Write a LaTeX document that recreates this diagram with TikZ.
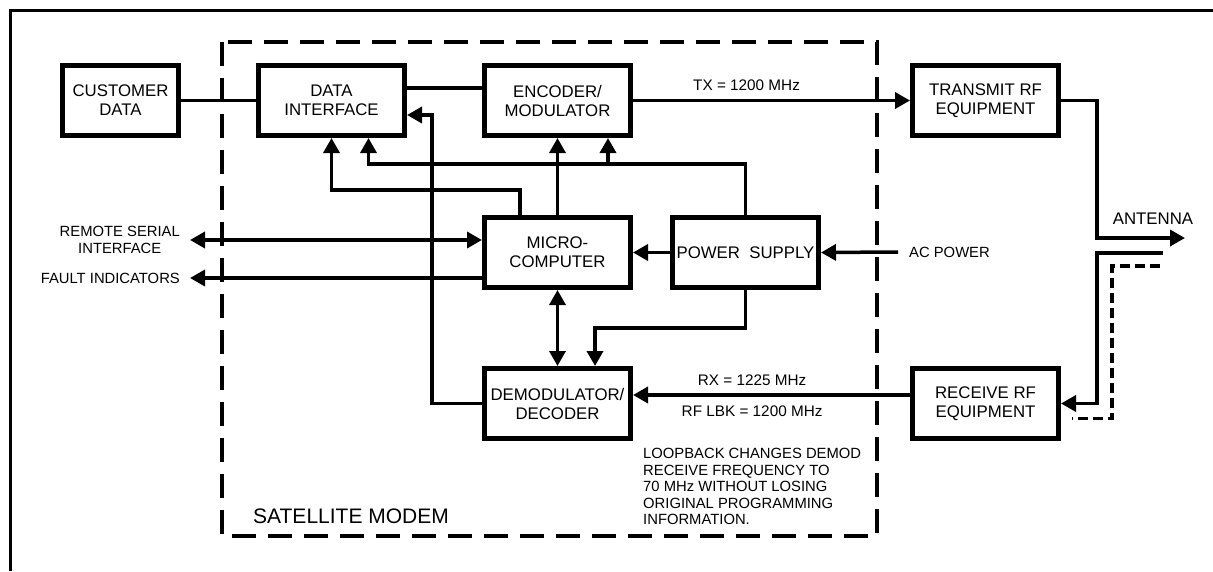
\documentclass[tikz,border=0pt]{standalone}
\usepackage{fontspec}
\setmainfont{Liberation Sans}
\usepackage{tikz}
\usetikzlibrary{arrows.meta, positioning, calc}
\newcommand{\boxfont}{\fontsize{16.8}{19}\selectfont}
\newcommand{\lblfont}{\fontsize{14.8}{16.5}\selectfont}
\newcommand{\freqfont}{\fontsize{15.3}{17}\selectfont}
\tikzset{
  block/.style={
    rectangle, draw, line width=5pt,
    minimum width=146pt, minimum height=70pt,
    align=center, inner sep=2pt,
    font=\boxfont
  },
  wire/.style={line width=3.5pt},
  arrow/.style={wire, -{Triangle[length=15pt, width=16pt]}},
  dblarrow/.style={wire, {Triangle[length=15pt, width=16pt]}-{Triangle[length=15pt, width=16pt]}},
  lbl/.style={font=\lblfont, inner sep=1pt},
  freq/.style={font=\freqfont, inner sep=1pt},
  modem/.style={line width=4.5pt, dash pattern=on 24pt off 12pt},
  lbkpath/.style={line width=3.5pt, dash pattern=on 10pt off 5pt},
}

\begin{document}
\begin{tikzpicture}[x=1pt, y=-1pt, node distance=75pt]
    \useasboundingbox (0,0) rectangle (1213,571);
    \draw[line width=3pt] (10,571) -- (10,10) -- (1213,10);
    \draw[modem] (222,42) rectangle (877,536);

    \node[block] (enc) at (557.5,100.5) {ENCODER/\\MODULATOR};
    \node[block, left=of enc] (dint) {DATA\\INTERFACE};
    \node[block, minimum width=116pt, left=of dint] (cust) {CUSTOMER\\DATA};
    \node[block, right=277pt of enc] (txrf) {TRANSMIT RF\\EQUIPMENT};
    \node[block, below=77pt of enc] (micro) {MICRO-\\COMPUTER};
    \node[block, right=37pt of micro] (psu) {POWER\ \ SUPPLY};
    \node[block, below=76pt of micro] (demod) {DEMODULATOR/\\DECODER};
    \node[block] (rxrf) at (txrf |- demod) {RECEIVE RF\\EQUIPMENT};

    \draw[wire] (cust) -- (dint);
    \draw[wire] ([yshift=12.5pt]dint.east) -- ([yshift=12.5pt]enc.west);
    \draw[arrow] (enc) -- node[freq, above=7pt, pos=0.41] {TX = 1200 MHz} (txrf);

    \coordinate (ant) at (1185,238);
    \draw[arrow] (txrf.east) -- ++(36,0) |- (ant);
    \node[font=\boxfont, inner sep=1pt] (antlbl) at (1153,219) {ANTENNA};
    \coordinate (rxin) at (1163,253);
    \draw[arrow] (rxin) -| ($(rxrf.east)+(36,0)$) -- (rxrf.east);
    \coordinate (lbk) at (1160,266);
    \draw[lbkpath] (lbk) -| ($(rxrf.east)+(51,15)$) -- ($(rxrf.east)+(11,15)$);

    \coordinate (ac) at (898,252);
    \draw[arrow] (ac) -- (psu.east);
    \node[lbl, right=10pt of ac] (aclbl) {AC POWER};
    \draw[arrow] (psu) -- (micro);

    \coordinate (rsi) at (190,240);
    \draw[dblarrow] (rsi) -- (rsi -| micro.west);
    \node[lbl, left=9pt of rsi, align=center] (rsilbl) {REMOTE SERIAL\\INTERFACE};
    \coordinate (flt) at (190,278);
    \draw[arrow] (flt -| micro.west) -- (flt);
    \node[lbl, left=9pt of flt] (fltlbl) {FAULT INDICATORS};

    \draw[arrow] ([xshift=-37.5pt]micro.north) -- ++(0,-25) -| (dint.south);
    \coordinate (psbus) at ($(psu.north)+(0,-51)$);
    \draw[arrow] (psu.north) -- (psbus) -| ([xshift=37pt]dint.south);
    \coordinate (encin) at ([xshift=50.5pt]enc.south);
    \draw[arrow] (encin |- psbus) -- (encin);
    \draw[arrow] (micro) -- (enc);
    \draw[dblarrow] (micro) -- (demod);
    \draw[arrow] (psu.south) -- ++(0,38) -| ([xshift=37.5pt]demod.north);
    \draw[arrow] (demod.west) -- ++(-50,0) |- ([yshift=-14.5pt]dint.east);
    \draw[arrow] ([yshift=8.5pt]rxrf.west) --
      node[freq, above=7pt, pos=0.57] {RX = 1225 MHz}
      node[freq, below=8pt, pos=0.57] {RF LBK = 1200 MHz}
      ([yshift=8.5pt]demod.east);

    \node[lbl, align=left, anchor=north west] (note) at (642,447)
      {LOOPBACK CHANGES DEMOD\\RECEIVE FREQUENCY TO\\70 MHz WITHOUT LOSING\\ORIGINAL PROGRAMMING\\INFORMATION.};
    \node[font=\fontsize{21}{24}\selectfont, anchor=base west, inner sep=0pt] (modemlbl) at (253,523) {SATELLITE MODEM};
  \end{tikzpicture}
\end{document}
